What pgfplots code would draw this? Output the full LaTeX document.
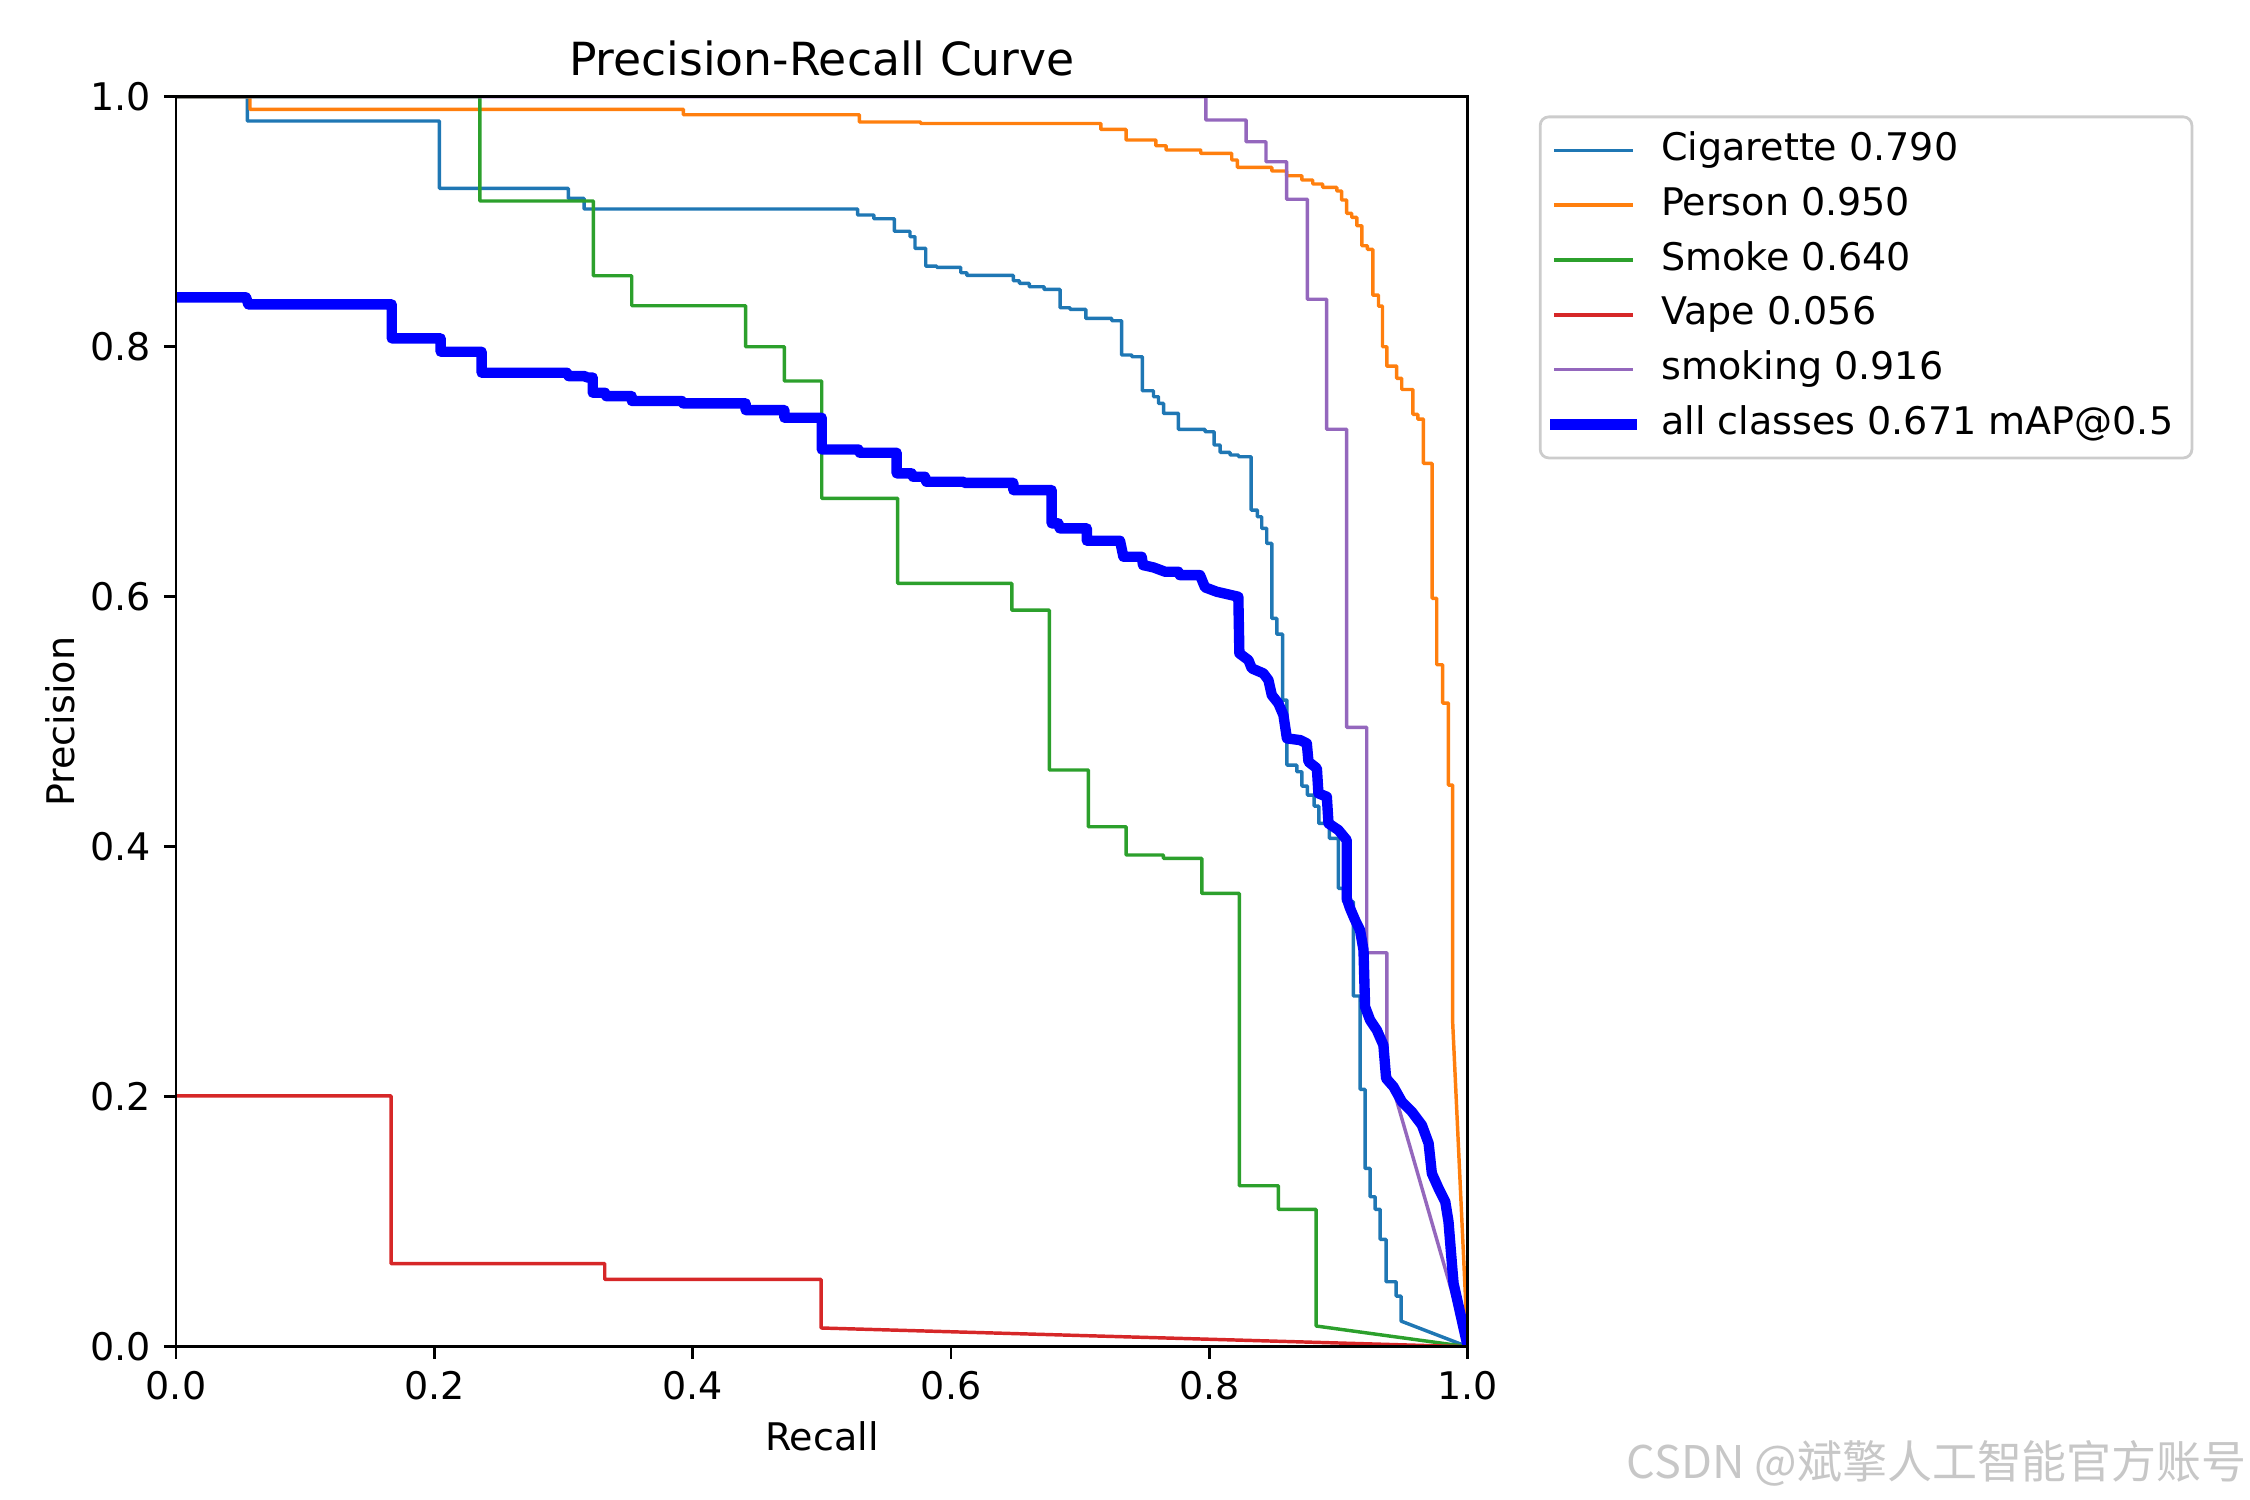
\documentclass[border=0pt]{standalone}
\usepackage{pgfplots}
\pgfplotsset{compat=1.18}
\usepackage{fontspec}
\setmainfont{DejaVu Sans}
\newfontfamily\cjk{Noto Sans CJK SC}
\definecolor{tabblue}{HTML}{1F77B4}
\definecolor{taborange}{HTML}{FF7F0E}
\definecolor{tabgreen}{HTML}{2CA02C}
\definecolor{tabred}{HTML}{D62728}
\definecolor{tabpurple}{HTML}{9467BD}
\begin{document}
\begin{tikzpicture}
\useasboundingbox (0,0) rectangle (9in,6in);
\begin{axis}[
  at={(0.704in,0.613in)}, anchor=south west,
  scale only axis, width=5.167in, height=5.0in,
  xmin=0, xmax=1, ymin=0, ymax=1,
  axis on top,
  axis line style={line width=0.8pt},
  tick align=outside, major tick length=3.5pt,
  every tick/.style={line width=0.8pt, black},
  xtick={0,0.2,0.4,0.6,0.8,1}, xticklabels={0.0,0.2,0.4,0.6,0.8,1.0},
  ytick={0,0.2,0.4,0.6,0.8,1}, yticklabels={0.0,0.2,0.4,0.6,0.8,1.0},
  xtick pos=bottom, ytick pos=left,
  ticklabel style={font=\fontsize{11}{13}\selectfont, inner sep=0pt},
  xticklabel style={anchor=north, yshift=-3.5pt},
  yticklabel style={anchor=east, xshift=-3.5pt},
  xlabel={Recall}, ylabel={Precision},
  label style={font=\fontsize{11}{13}\selectfont},
  xlabel style={at={(axis description cs:0.5,-0.072)}, anchor=center},
  ylabel style={at={(axis description cs:-0.0897,0.5)}, anchor=center},
  title={Precision-Recall Curve},
  title style={at={(axis description cs:0.5,1)}, anchor=base, font=\fontsize{13.2}{15}\selectfont, inner sep=0pt},
  legend image code/.code={\draw[#1, line cap=rect] (0pt,0pt) -- (22pt,0pt);},
  legend cell align=left,
  legend style={at={(1.055,0.985)}, anchor=north west,
    draw=black!20, line width=0.8pt, rounded corners=2.5pt, fill=white,
    font=\fontsize{11}{13}\selectfont,
    inner xsep=2.9pt, inner ysep=4.2pt,
    row sep=4.84pt, column sep=7.1pt,
    nodes={inner sep=0pt, text height=8.4pt, text depth=2.6pt}},
  every axis plot/.append style={line join=round},
]
\addplot[tabblue, line width=1pt] coordinates {
(0,1)(0.0552,1)(0.0552,0.9806)(0.2039,0.9806)(0.2039,0.9267)(0.3037,0.9267)(0.3037,0.9187)(0.3159,0.9187)(0.3159,0.9102)(0.5277,0.9102)(0.5277,0.9054)(0.5403,0.9054)(0.5403,0.9024)(0.5561,0.9024)(0.5561,0.8924)(0.5682,0.8924)(0.5682,0.8880)(0.5721,0.8880)(0.5721,0.8787)(0.5804,0.8787)(0.5804,0.8645)(0.5889,0.8645)(0.5889,0.8635)(0.6075,0.8635)(0.6075,0.8592)(0.6122,0.8592)(0.6122,0.8571)(0.6482,0.8571)(0.6482,0.8528)(0.6529,0.8528)(0.6529,0.8507)(0.6606,0.8507)(0.6606,0.8480)(0.6720,0.8480)(0.6720,0.8459)(0.6844,0.8459)(0.6844,0.8312)(0.6921,0.8312)(0.6921,0.8299)(0.7043,0.8299)(0.7043,0.8227)(0.7244,0.8227)(0.7244,0.8208)(0.7321,0.8208)(0.7321,0.7934)(0.7399,0.7934)(0.7399,0.7920)(0.7481,0.7920)(0.7481,0.7648)(0.7567,0.7648)(0.7567,0.7600)(0.7606,0.7600)(0.7606,0.7547)(0.7645,0.7547)(0.7645,0.7467)(0.7760,0.7467)(0.7760,0.7339)(0.7966,0.7339)(0.7966,0.7320)(0.8036,0.7320)(0.8036,0.7214)(0.8083,0.7214)(0.8083,0.7155)(0.8160,0.7155)(0.8160,0.7134)(0.8225,0.7134)(0.8225,0.7120)(0.8323,0.7120)(0.8323,0.6693)(0.8372,0.6693)(0.8372,0.6640)(0.8405,0.6640)(0.8405,0.6547)(0.8444,0.6547)(0.8444,0.6427)(0.8483,0.6427)(0.8483,0.5827)(0.8522,0.5827)(0.8522,0.5701)(0.8566,0.5701)(0.8566,0.5173)(0.8600,0.5173)(0.8600,0.4653)(0.8677,0.4653)(0.8677,0.4600)(0.8716,0.4600)(0.8716,0.4485)(0.8759,0.4485)(0.8759,0.4413)(0.8811,0.4413)(0.8811,0.4325)(0.8847,0.4325)(0.8847,0.4187)(0.8929,0.4187)(0.8929,0.4067)(0.8999,0.4067)(0.8999,0.3667)(0.9038,0.3667)(0.9038,0.3560)(0.9115,0.3560)(0.9115,0.2806)(0.9167,0.2806)(0.9167,0.2059)(0.9205,0.2059)(0.9205,0.1427)(0.9244,0.1427)(0.9244,0.1200)(0.9283,0.1200)(0.9283,0.1099)(0.9322,0.1099)(0.9322,0.0859)(0.9368,0.0859)(0.9368,0.0520)(0.9446,0.0520)(0.9446,0.0405)(0.9484,0.0405)(0.9484,0.0205)(1,0)
};
\addlegendentry{Cigarette 0.790}
\addplot[taborange, line width=1pt] coordinates {
(0,1)(0.0573,1)(0.0573,0.9899)(0.3928,0.9899)(0.3928,0.9856)(0.5290,0.9856)(0.5290,0.9798)(0.5765,0.9798)(0.5765,0.9786)(0.7159,0.9786)(0.7159,0.9739)(0.7355,0.9739)(0.7355,0.9654)(0.7585,0.9654)(0.7585,0.9608)(0.7665,0.9608)(0.7665,0.9574)(0.7933,0.9574)(0.7933,0.9547)(0.8173,0.9547)(0.8173,0.9494)(0.8217,0.9494)(0.8217,0.9435)(0.8483,0.9435)(0.8483,0.9406)(0.8598,0.9406)(0.8598,0.9368)(0.8715,0.9368)(0.8715,0.9334)(0.8800,0.9334)(0.8800,0.9302)(0.8877,0.9302)(0.8877,0.9275)(0.8986,0.9275)(0.8986,0.9246)(0.9024,0.9246)(0.9024,0.9174)(0.9063,0.9174)(0.9063,0.9067)(0.9102,0.9067)(0.9102,0.9035)(0.9141,0.9035)(0.9141,0.8968)(0.9180,0.8968)(0.9180,0.8808)(0.9223,0.8808)(0.9223,0.8779)(0.9265,0.8779)(0.9265,0.8413)(0.9309,0.8413)(0.9309,0.8325)(0.9340,0.8325)(0.9340,0.8000)(0.9373,0.8000)(0.9373,0.7845)(0.9450,0.7845)(0.9450,0.7747)(0.9489,0.7747)(0.9489,0.7658)(0.9575,0.7658)(0.9575,0.7459)(0.9613,0.7459)(0.9613,0.7421)(0.9657,0.7421)(0.9657,0.7067)(0.9724,0.7067)(0.9724,0.5987)(0.9760,0.5987)(0.9760,0.5456)(0.9806,0.5456)(0.9806,0.5149)(0.9850,0.5149)(0.9850,0.4493)(0.9883,0.4493)(0.9883,0.2600)(1,0)
};
\addlegendentry{Person 0.950}
\addplot[tabgreen, line width=1pt] coordinates {
(0,1)(0.2353,1)(0.2353,0.9166)(0.3231,0.9166)(0.3231,0.8568)(0.3528,0.8568)(0.3528,0.8328)(0.4410,0.8328)(0.4410,0.8000)(0.4710,0.8000)(0.4710,0.7726)(0.4999,0.7726)(0.4999,0.6787)(0.5587,0.6787)(0.5587,0.6107)(0.6470,0.6107)(0.6470,0.5893)(0.6761,0.5893)(0.6761,0.4614)(0.7063,0.4614)(0.7063,0.4160)(0.7355,0.4160)(0.7355,0.3934)(0.7644,0.3934)(0.7644,0.3907)(0.7941,0.3907)(0.7941,0.3627)(0.8232,0.3627)(0.8232,0.1288)(0.8534,0.1288)(0.8534,0.1099)(0.8826,0.1099)(0.8826,0.0166)(1,0)
};
\addlegendentry{Smoke 0.640}
\addplot[tabred, line width=1pt] coordinates {
(0,0.2007)(0.1665,0.2007)(0.1665,0.0665)(0.3319,0.0665)(0.3319,0.0539)(0.4994,0.0539)(0.4994,0.0150)(1,0)
};
\addlegendentry{Vape 0.056}
\addplot[tabpurple, line width=1pt] coordinates {
(0,1)(0.7972,1)(0.7972,0.9814)(0.8284,0.9814)(0.8284,0.9640)(0.8438,0.9640)(0.8438,0.9480)(0.8598,0.9480)(0.8598,0.9180)(0.8758,0.9180)(0.8758,0.8380)(0.8908,0.8380)(0.8908,0.7340)(0.9063,0.7340)(0.9063,0.4955)(0.9218,0.4955)(0.9218,0.3152)(0.9373,0.3152)(0.9373,0.2243)(1,0)
};
\addlegendentry{smoking 0.916}
\addplot[blue, line width=3pt] coordinates {
(0,0.8395)(0.0542,0.8395)(0.0560,0.8339)(0.1670,0.8339)(0.1670,0.8067)(0.2049,0.8067)(0.2049,0.7960)(0.2366,0.7960)(0.2366,0.7792)(0.3025,0.7792)(0.3040,0.7765)(0.3166,0.7765)(0.3180,0.7754)(0.3226,0.7754)(0.3226,0.7632)(0.3321,0.7632)(0.3330,0.7605)(0.3528,0.7605)(0.3528,0.7566)(0.3915,0.7566)(0.3925,0.7547)(0.4410,0.7547)(0.4410,0.7493)(0.4710,0.7493)(0.4710,0.7432)(0.4999,0.7432)(0.4999,0.7178)(0.5283,0.7178)(0.5293,0.7152)(0.5579,0.7152)(0.5579,0.6987)(0.5695,0.6987)(0.5705,0.6960)(0.5798,0.6960)(0.5808,0.6920)(0.6095,0.6920)(0.6105,0.6911)(0.6482,0.6911)(0.6482,0.6853)(0.6779,0.6853)(0.6779,0.6587)(0.6831,0.6587)(0.6841,0.6547)(0.7051,0.6547)(0.7051,0.6448)(0.7308,0.6448)(0.7334,0.6320)(0.7476,0.6320)(0.7486,0.6253)(0.7566,0.6235)(0.7657,0.6200)(0.7760,0.6200)(0.7770,0.6173)(0.7927,0.6173)(0.7966,0.6075)(0.8057,0.6040)(0.8224,0.6000)(0.8232,0.5547)(0.8302,0.5493)(0.8328,0.5427)(0.8418,0.5387)(0.8457,0.5333)(0.8483,0.5213)(0.8534,0.5147)(0.8573,0.5053)(0.8600,0.4867)(0.8703,0.4853)(0.8754,0.4827)(0.8767,0.4680)(0.8832,0.4627)(0.8844,0.4427)(0.8909,0.4400)(0.8922,0.4187)(0.8999,0.4133)(0.9063,0.4053)(0.9063,0.3587)(0.9089,0.3507)(0.9128,0.3413)(0.9166,0.3333)(0.9193,0.3173)(0.9205,0.2720)(0.9244,0.2613)(0.9296,0.2533)(0.9347,0.2413)(0.9368,0.2147)(0.9425,0.2080)(0.9490,0.1960)(0.9567,0.1880)(0.9645,0.1773)(0.9697,0.1627)(0.9722,0.1387)(0.9774,0.1267)(0.9826,0.1160)(0.9851,0.1000)(0.9877,0.0667)(0.9890,0.0507)(1,0)
};
\addlegendentry{all classes 0.671 mAP@0.5\kern2.5pt\relax}
\end{axis}
\node[anchor=base east, inner sep=0pt, text=black!22, font=\cjk\fontsize{13}{15}\selectfont] at (8.99in,0.085in) {CSDN @斌擎人工智能官方账号};
\end{tikzpicture}
\end{document}
